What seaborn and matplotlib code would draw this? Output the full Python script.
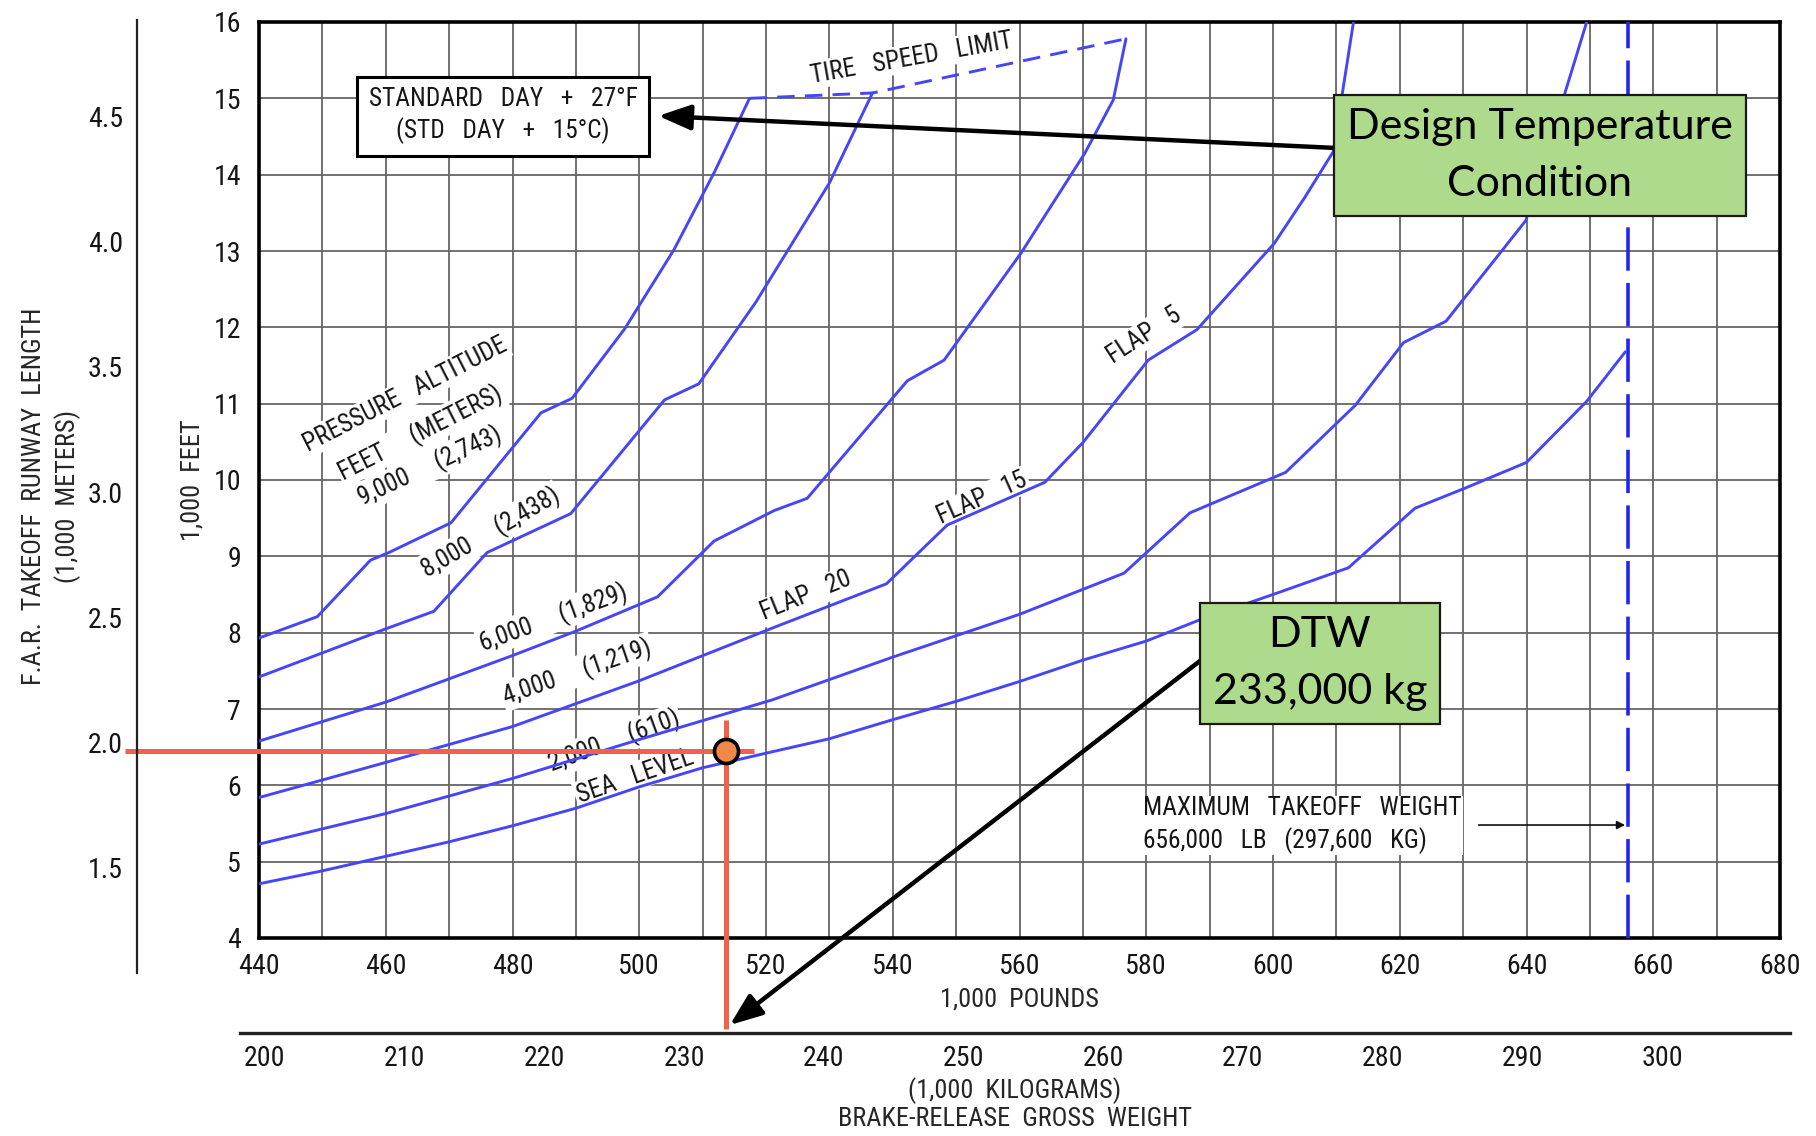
import matplotlib
matplotlib.use('Agg')
import matplotlib.pyplot as plt
from matplotlib import font_manager
import numpy as np
import pandas as pd
import seaborn as sns

# Curves: weight in 1,000 lb, takeoff length in 1,000 ft
sea_level_w = [440, 450, 470, 480, 490, 500, 510, 521, 530, 540, 550, 560, 570, 580, 588.5, 600, 611.9, 622.4, 630.5, 640, 649.5, 655.6]
sea_level_l = [4.71, 4.88, 5.26, 5.47, 5.7, 5.98, 6.23, 6.44, 6.61, 6.86, 7.1, 7.36, 7.64, 7.89, 8.17, 8.5, 8.85, 9.63, 9.9, 10.23, 11.03, 11.68]
alt2000_w = [440, 460, 480, 500, 521, 540, 560, 576.5, 586.9, 602, 613, 620.6, 627.3, 639.9, 649.5]
alt2000_l = [5.23, 5.63, 6.09, 6.6, 7.12, 7.68, 8.24, 8.78, 9.57, 10.1, 10.98, 11.8, 12.08, 13.4, 16.0]
alt4000_w = [440, 460, 480, 500, 521.3, 539, 548.6, 564, 570, 580.3, 588, 600.2, 605, 609.5, 612.7]
alt4000_l = [5.84, 6.3, 6.77, 7.37, 8.07, 8.64, 9.41, 9.97, 10.49, 11.57, 11.97, 13.1, 13.7, 14.3, 16.0]
alt6000_w = [440, 460, 480, 490, 502.9, 511.8, 521.3, 526.5, 542.3, 548.1, 560.3, 570.3, 574.8, 576.8]
alt6000_l = [6.58, 7.09, 7.7, 8.02, 8.47, 9.2, 9.6, 9.76, 11.3, 11.57, 12.98, 14.28, 14.98, 15.78]
alt8000_w = [440, 460, 467.6, 476, 489.2, 504, 509.4, 518.4, 530, 536.8]
alt8000_l = [7.42, 8.05, 8.28, 9.05, 9.56, 11.05, 11.26, 12.33, 13.89, 15.07]
alt9000_w = [440, 449.2, 457.6, 460.5, 470.3, 484.5, 489.4, 497.7, 505.5, 511.9, 517.4]
alt9000_l = [7.93, 8.21, 8.95, 9.05, 9.44, 10.88, 11.07, 11.98, 13.02, 14.04, 15.0]
tire_limit_w = [517.4, 536.8, 576.8]
tire_limit_l = [15.0, 15.07, 15.78]

mtow_klb = 656
dtw_t = 233
dtw_runway_kft = 6.45

lb_ticks = list(range(440, 681, 20))
ft_ticks = list(range(4, 17))
m_ticks = [1.5, 2.0, 2.5, 3.0, 3.5, 4.0, 4.5]
kg_ticks = list(range(200, 301, 10))

KLB_PER_T = 2.20462
KFT_PER_KM = 3.28084

curves = pd.concat([
    pd.DataFrame({'weight': w, 'length': l, 'altitude': name})
    for name, w, l in [('SL', sea_level_w, sea_level_l), ('2000', alt2000_w, alt2000_l),
                       ('4000', alt4000_w, alt4000_l), ('6000', alt6000_w, alt6000_l),
                       ('8000', alt8000_w, alt8000_l), ('9000', alt9000_w, alt9000_l)]
])

# layout in pixels of the 1816x1136 picture
FIG_W, FIG_H = 1816, 1136
AX_L, AX_R, AX_T, AX_B = 259, 1780, 22, 938
M_X, M_T, M_B = 137, 20, 973
KG_Y, KG_L, KG_R = 1033, 240, 1790
px_klb = (AX_R - AX_L) / 240
px_kft = (AX_B - AX_T) / 12

# a narrow face is closer to the drafting lettering of the original
names = {f.name for f in font_manager.fontManager.ttflist}
narrow = [n for n in ['Liberation Sans Narrow', 'Roboto Condensed'] if n in names]
CAD = narrow[0] if narrow else 'DejaVu Sans'
k = 1.18 if narrow else 1.0

sns.set_theme(style='white')
plt.rcParams['font.family'] = [CAD, 'DejaVu Sans']
plt.rcParams['font.stretch'] = 'condensed'
plt.rcParams['text.color'] = '#151515'

BLUE = '#4646f6'
RED = '#f2604e'
GREEN = '#aedb8b'
GRID = '#666666'

fig = plt.figure(figsize=(FIG_W / 100, FIG_H / 100), dpi=100)
ax = fig.add_axes([AX_L / FIG_W, 1 - AX_B / FIG_H, (AX_R - AX_L) / FIG_W, (AX_B - AX_T) / FIG_H])

sns.lineplot(data=curves, x='weight', y='length', units='altitude', estimator=None, sort=False,
             color=BLUE, lw=2.1, ax=ax, zorder=3)
sns.lineplot(x=tire_limit_w, y=tire_limit_l, sort=False, color=BLUE, lw=2.1,
             linestyle=(0, (6, 3.5)), ax=ax, zorder=3)
ax.axvline(mtow_klb, color='#2424f2', lw=2.6, linestyle=(0, (12, 3.4)), zorder=3)

ax.set_xlim(440, 680)
ax.set_ylim(4, 16)
ax.set_xticks(list(range(440, 681, 10)))
ax.set_xticklabels([str(v) if v in lb_ticks else '' for v in range(440, 681, 10)])
ax.set_yticks(ft_ticks)
ax.grid(True, color=GRID, lw=1.3)
ax.set_axisbelow(True)
for s in ax.spines.values():
    s.set_color('black')
    s.set_linewidth(2.6)
ax.tick_params(length=0, labelsize=17 * k, pad=11, labelcolor='#151515')
ax.tick_params(axis='y', pad=13)
ax.set_xlabel('1,000  POUNDS', fontsize=16 * k, labelpad=5)
ax.set_ylabel('1,000  FEET', fontsize=16 * k, labelpad=6)

# meters axis on the left
ax_m = fig.add_axes([M_X / FIG_W, 1 - M_B / FIG_H, 0.0005, (M_B - M_T) / FIG_H])
ax_m.set_ylim((4 - (M_B - AX_B) / px_kft) / KFT_PER_KM, (16 + (AX_T - M_T) / px_kft) / KFT_PER_KM)
ax_m.set_yticks(m_ticks)
ax_m.set_yticklabels([f'{v:.1f}' for v in m_ticks])
ax_m.set_xticks([])
ax_m.patch.set_alpha(0)
for side in ['top', 'right', 'bottom']:
    ax_m.spines[side].set_visible(False)
ax_m.spines['left'].set_color('#222222')
ax_m.spines['left'].set_linewidth(1.6)
ax_m.tick_params(axis='y', direction='in', length=14, width=1.6, color='#222222',
                 labelsize=17 * k, pad=10, labelcolor='#151515')
ax_m.set_ylabel('F.A.R.  TAKEOFF  RUNWAY  LENGTH\n(1,000  METERS)', fontsize=16 * k, labelpad=5,
                linespacing=1.4)

# kilograms axis below
ax_kg = fig.add_axes([KG_L / FIG_W, 1 - KG_Y / FIG_H, (KG_R - KG_L) / FIG_W, 0.0005])
ax_kg.set_xlim((440 - (AX_L - KG_L) / px_klb) / KLB_PER_T, (680 + (KG_R - AX_R) / px_klb) / KLB_PER_T)
ax_kg.set_xticks(kg_ticks)
ax_kg.set_yticks([])
ax_kg.patch.set_alpha(0)
for side in ['top', 'right', 'left']:
    ax_kg.spines[side].set_visible(False)
ax_kg.spines['bottom'].set_color('#222222')
ax_kg.spines['bottom'].set_linewidth(2.4)
ax_kg.tick_params(axis='x', direction='in', length=14, width=1.2, color='#333333',
                  labelsize=17 * k, pad=9, labelcolor='#151515')
ax_kg.set_xlabel('(1,000  KILOGRAMS)\nBRAKE-RELEASE  GROSS  WEIGHT', fontsize=16 * k, labelpad=3,
                 linespacing=1.2)

# labels along the curves
lab = dict(fontsize=15.5 * k, ha='center', va='center', rotation_mode='anchor', zorder=2,
           bbox=dict(fc='white', ec='none', pad=1.5))
ax.text(463, 11.12, 'PRESSURE   ALTITUDE', rotation=27, **lab)
ax.text(465.5, 10.62, 'FEET     (METERS)', rotation=27, **lab)
ax.text(466.9, 10.18, '9,000     (2,743)', rotation=25, **lab)
ax.text(476.5, 9.31, '8,000     (2,438)', rotation=30, **lab)
ax.text(486.4, 8.2, '6,000     (1,829)', rotation=20, **lab)
ax.text(490.2, 7.49, '4,000     (1,219)', rotation=19, **lab)
ax.text(496, 6.58, '2,000     (610)', rotation=20, **lab)
ax.text(499.3, 6.12, 'SEA   LEVEL', rotation=19, **lab)
ax.text(526.3, 8.48, 'FLAP   20', rotation=22, **lab)
ax.text(554.1, 9.76, 'FLAP   15', rotation=24, **lab)
ax.text(579.6, 11.89, 'FLAP   5', rotation=33, **lab)
ax.text(543, 15.53, 'TIRE   SPEED   LIMIT', rotation=10, **lab)
ax.text(478.5, 14.77, 'STANDARD   DAY   +   27°F\n(STD   DAY   +   15°C)', fontsize=15.5 * k,
        ha='center', va='center', linespacing=1.3, zorder=4,
        bbox=dict(boxstyle='square,pad=0.45', fc='white', ec='black', lw=2.2))
ax.text(579.5, 5.48, 'MAXIMUM   TAKEOFF   WEIGHT\n656,000   LB   (297,600   KG)', fontsize=15.5 * k,
        ha='left', va='center', linespacing=1.35, zorder=2, bbox=dict(fc='white', ec='none', pad=1))
ax.annotate('', xy=(mtow_klb, 5.48), xytext=(632, 5.48), zorder=4,
            arrowprops=dict(arrowstyle='-|>', color='#111111', lw=1.2, mutation_scale=12))

# design take-off weight crosshair
dtw_klb = dtw_t * KLB_PER_T
x_left = 440 - (AX_L - M_X + 12) / px_klb
ax.plot([x_left, dtw_klb + 4.5], [dtw_runway_kft] * 2, color=RED, lw=3.6, clip_on=False, zorder=6,
        solid_capstyle='butt')
ax.plot([dtw_klb] * 2, [dtw_runway_kft + 0.41, 4 - (KG_Y - 4 - AX_B) / px_kft], color=RED, lw=3.6,
        clip_on=False, zorder=6, solid_capstyle='butt')
sns.scatterplot(x=[dtw_klb], y=[dtw_runway_kft], s=300, color='#f0884a', edgecolor='black',
                linewidth=2.6, ax=ax, zorder=7, clip_on=False)

# callouts
box = dict(family=['Lato', 'DejaVu Sans'], fontstretch='normal', fontsize=31, ha='center',
           va='center', color='black', zorder=8, linespacing=1.62,
           bbox=dict(boxstyle='square,pad=0.3', fc=GREEN, ec='#1a1a1a', lw=1.6))
ax.text(642.1, 14.25, 'Design Temperature\nCondition', **box)
ax.text(607.4, 7.6, 'DTW\n233,000 kg', **box)
ax.annotate('', xy=(503, 14.77), xytext=(609.8, 14.35), annotation_clip=False, zorder=7,
            arrowprops=dict(arrowstyle='-|>,head_length=0.9,head_width=0.35', color='black',
                            lw=3.2, mutation_scale=22, shrinkA=0, shrinkB=0))
ax.annotate('', xy=(514.3, 2.86), xytext=(589.1, 7.67), annotation_clip=False, zorder=7,
            arrowprops=dict(arrowstyle='-|>,head_length=0.9,head_width=0.35', color='black',
                            lw=3.2, mutation_scale=22, shrinkA=0, shrinkB=0))

fig.savefig('out.png', dpi=100, facecolor='white')
